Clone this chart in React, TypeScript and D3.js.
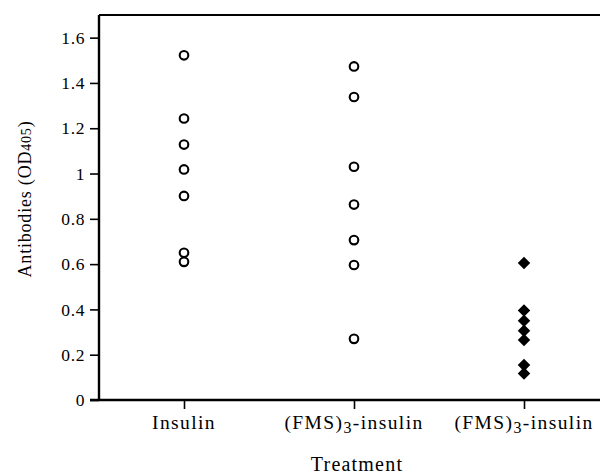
import { useEffect, useRef } from 'react'
import * as d3 from 'd3'

// Treatment groups (x categories) and antibody readings (OD405) per group
const groups = ['Insulin', '(FMS)3-insulin', '(FMS)3-insulin ']
const insulinValues = [1.522, 1.243, 1.128, 1.018, 0.901, 0.65, 0.61]
const fmsValues = [1.473, 1.338, 1.03, 0.863, 0.706, 0.596, 0.27]
const fmsTreatedValues = [0.605, 0.395, 0.35, 0.306, 0.265, 0.154, 0.117]
const yTicks = [0, 0.2, 0.4, 0.6, 0.8, 1, 1.2, 1.4, 1.6]

const font = '"Liberation Serif", "DejaVu Serif", serif'

export default function App() {
  const svgRef = useRef<SVGSVGElement>(null)

  useEffect(() => {
    if (!svgRef.current) return
    const width = 600
    const height = 474
    const left = 99
    const top = 15
    const bottom = 400

    const svg = d3.select(svgRef.current)
    svg.selectAll('*').remove()
    svg.attr('width', width).attr('height', height)

    const x = d3.scalePoint<string>()
      .domain(groups)
      .range([left, left + 510])
      .padding(0.5)

    const y = d3.scaleLinear()
      .domain([0, 1.7])
      .range([bottom, top])

    // top border of the plot box
    svg.append('line')
      .attr('x1', left).attr('x2', width)
      .attr('y1', top).attr('y2', top)
      .attr('stroke', '#000').attr('stroke-width', 1.8)

    // Y axis
    const yAxis = svg.append('g')
      .attr('transform', `translate(${left},0)`)
      .call(d3.axisLeft(y).tickValues(yTicks).tickSize(9).tickPadding(5)
        .tickFormat(d => String(+d)))
    yAxis.select('.domain').remove()
    yAxis.selectAll('line').attr('stroke', '#000').attr('stroke-width', 1.6)
    yAxis.selectAll('text')
      .attr('font-family', font).attr('font-size', 17.5)
      .attr('letter-spacing', 0.6).attr('fill', '#000')
    svg.append('line')
      .attr('x1', left).attr('x2', left)
      .attr('y1', top).attr('y2', bottom + 1)
      .attr('stroke', '#000').attr('stroke-width', 2.4)

    // X axis
    const xAxis = svg.append('g')
      .attr('transform', `translate(0,${bottom})`)
      .call(d3.axisBottom(x).tickSize(9).tickFormat(() => ''))
    xAxis.select('.domain').remove()
    xAxis.selectAll('line').attr('stroke', '#000').attr('stroke-width', 1.6)
    svg.append('line')
      .attr('x1', left - 9).attr('x2', width)
      .attr('y1', bottom).attr('y2', bottom)
      .attr('stroke', '#000').attr('stroke-width', 2.4)

    // x tick labels, with subscript 3
    groups.forEach(g => {
      const t = svg.append('text')
        .attr('x', x(g)!)
        .attr('y', 429)
        .attr('text-anchor', 'middle')
        .attr('font-family', font).attr('font-size', 19.5)
        .attr('letter-spacing', 1.4)
      if (g.startsWith('(FMS)')) {
        t.append('tspan').text('(FMS)')
        t.append('tspan').attr('dy', 4).attr('font-size', 16).text('3')
        t.append('tspan').attr('dy', -4).text('-insulin')
      } else {
        t.text(g)
      }
    })

    // open circles
    const circleSeries = [
      { g: groups[0], values: insulinValues },
      { g: groups[1], values: fmsValues },
    ]
    circleSeries.forEach(s => {
      svg.append('g').selectAll('circle')
        .data(s.values)
        .enter().append('circle')
        .attr('cx', x(s.g)!)
        .attr('cy', d => y(d))
        .attr('r', 4.3)
        .attr('fill', 'none')
        .attr('stroke', '#000')
        .attr('stroke-width', 2.1)
    })

    // filled diamonds
    const diamond = d3.symbol().type(d3.symbolDiamond2).size(100)
    svg.append('g').selectAll('path')
      .data(fmsTreatedValues)
      .enter().append('path')
      .attr('d', diamond)
      .attr('transform', d => `translate(${x(groups[2])},${y(d)})`)
      .attr('fill', '#000')

    // axis titles
    svg.append('text')
      .attr('x', 357).attr('y', 471)
      .attr('text-anchor', 'middle')
      .attr('font-family', font).attr('font-size', 20)
      .attr('letter-spacing', 1.2)
      .text('Treatment')

    const yl = svg.append('text')
      .attr('transform', 'translate(31,199) rotate(-90)')
      .attr('text-anchor', 'middle')
      .attr('font-family', font).attr('font-size', 18)
      .attr('letter-spacing', 0.8)
    yl.append('tspan').text('Antibodies (OD')
    yl.append('tspan').attr('font-size', 14).text('405')
    yl.append('tspan').text(')')
  }, [])

  return (
    <div style={{ position: 'absolute', left: 0, top: 0, background: '#fff' }}>
      <svg ref={svgRef} style={{ display: 'block' }} />
    </div>
  )
}
